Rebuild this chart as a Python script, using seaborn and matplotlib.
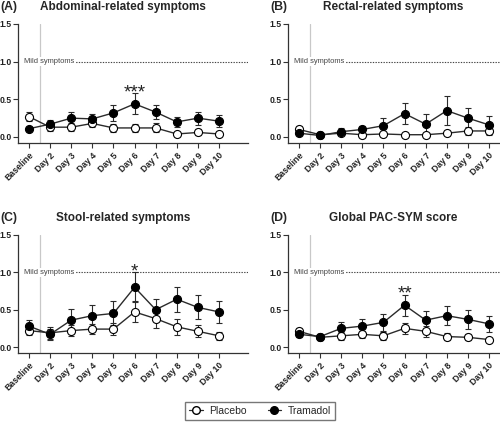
import numpy as np
import pandas as pd
import matplotlib
matplotlib.use("Agg")
import matplotlib.pyplot as plt
from matplotlib.lines import Line2D
import seaborn as sns

# Days on the x axis
days = ["Baseline", "Day 2", "Day 3", "Day 4", "Day 5",
        "Day 6", "Day 7", "Day 8", "Day 9", "Day 10"]

# (A) Abdominal-related symptoms
abd_placebo = [0.27, 0.13, 0.13, 0.18, 0.12, 0.12, 0.12, 0.04, 0.06, 0.04]
abd_placebo_err = [0.06, 0.05, 0.05, 0.05, 0.05, 0.05, 0.06, 0.02, 0.04, 0.02]
abd_tramadol = [0.11, 0.17, 0.25, 0.24, 0.32, 0.44, 0.33, 0.20, 0.25, 0.21]
abd_tramadol_err = [0.02, 0.05, 0.085, 0.07, 0.11, 0.14, 0.095, 0.07, 0.085, 0.08]

# (B) Rectal-related symptoms
rec_placebo = [0.10, 0.03, 0.05, 0.03, 0.04, 0.03, 0.03, 0.05, 0.08, 0.08]
rec_placebo_err = [0.04, 0.01, 0.03, 0.02, 0.02, 0.01, 0.01, 0.02, 0.05, 0.06]
rec_tramadol = [0.05, 0.02, 0.07, 0.10, 0.15, 0.31, 0.17, 0.35, 0.25, 0.16]
rec_tramadol_err = [0.03, 0.01, 0.05, 0.05, 0.10, 0.14, 0.14, 0.19, 0.14, 0.12]

# (C) Stool-related symptoms
sto_placebo = [0.22, 0.19, 0.22, 0.24, 0.24, 0.47, 0.38, 0.27, 0.21, 0.15]
sto_placebo_err = [0.06, 0.08, 0.07, 0.07, 0.08, 0.14, 0.12, 0.11, 0.08, 0.05]
sto_tramadol = [0.28, 0.17, 0.36, 0.42, 0.45, 0.80, 0.50, 0.64, 0.53, 0.47]
sto_tramadol_err = [0.08, 0.07, 0.15, 0.14, 0.16, 0.20, 0.14, 0.17, 0.16, 0.15]

# (D) Global PAC-SYM score
glo_placebo = [0.21, 0.13, 0.15, 0.17, 0.15, 0.25, 0.21, 0.14, 0.13, 0.10]
glo_placebo_err = [0.05, 0.04, 0.05, 0.05, 0.05, 0.07, 0.07, 0.05, 0.04, 0.02]
glo_tramadol = [0.17, 0.14, 0.25, 0.28, 0.33, 0.56, 0.36, 0.42, 0.37, 0.31]
glo_tramadol_err = [0.04, 0.04, 0.09, 0.09, 0.11, 0.14, 0.12, 0.13, 0.13, 0.11]

panels = [
    ("(A)", "Abdominal-related symptoms", abd_placebo, abd_placebo_err,
     abd_tramadol, abd_tramadol_err, "***", 0.64),
    ("(B)", "Rectal-related symptoms", rec_placebo, rec_placebo_err,
     rec_tramadol, rec_tramadol_err, None, None),
    ("(C)", "Stool-related symptoms", sto_placebo, sto_placebo_err,
     sto_tramadol, sto_tramadol_err, "*", 1.06),
    ("(D)", "Global PAC-SYM score", glo_placebo, glo_placebo_err,
     glo_tramadol, glo_tramadol_err, "**", 0.77),
]

sns.set_style("ticks")
plt.rcParams['font.family'] = ['Liberation Sans', 'DejaVu Sans']

W, H = 500, 429
fig = plt.figure(figsize=(W / 100, H / 100), dpi=100)

# axes boxes in pixels: left, top, width, height
boxes = [(18, 24, 230, 119), (288, 24, 230, 119),
         (18, 235, 230, 118), (288, 235, 230, 118)]

line_col = "#2b2b2b"
x = np.arange(len(days))

for (lab, title, pl, ple, tr, tre, star, star_y), (l, t, w, h) in zip(panels, boxes):
    ax = fig.add_axes([l / W, 1 - (t + h) / H, w / W, h / H])
    df = pd.DataFrame({
        "x": np.concatenate([x, x]),
        "y": pl + tr,
        "group": ["Placebo"] * len(x) + ["Tramadol"] * len(x),
    })
    for g, vals, errs, face in [("Placebo", pl, ple, "white"),
                                ("Tramadol", tr, tre, "black")]:
        ax.errorbar(x, vals, yerr=errs, fmt="none", ecolor=line_col,
                    elinewidth=0.8, capsize=2.5, capthick=0.8, zorder=2)
        sns.lineplot(data=df[df.group == g], x="x", y="y", ax=ax,
                     color=line_col, linewidth=1.0, marker="o",
                     markersize=5.8, markerfacecolor=face,
                     markeredgecolor="black", markeredgewidth=0.8,
                     zorder=3, legend=False)

    ax.axvline(0.5, color="#c8c8c8", linewidth=0.9, zorder=1)
    ax.plot([0.55, 10.4], [1.0, 1.0], linestyle=(0, (1.2, 1.2)),
            color="#444444", linewidth=0.8, zorder=1)
    ax.text(-0.25, 1.0, "Mild symptoms", fontsize=5.4, color="#444444",
            va="center", ha="left", zorder=4,
            bbox=dict(facecolor="white", edgecolor="none", pad=0.6))
    if star:
        ax.text(5, star_y - 0.06, star, fontsize=13.5, ha="center",
                va="center", color="#222222")

    ax.set_xlim(-0.52, 10.37)
    ax.set_ylim(-0.08, 1.5)
    ax.spines["left"].set_bounds(-0.08, 1.5)
    sns.despine(ax=ax)
    for s in ["left", "bottom"]:
        ax.spines[s].set_color("#333333")
        ax.spines[s].set_linewidth(0.9)
    ax.set_yticks([0.0, 0.5, 1.0, 1.5])
    ax.set_yticklabels(["0.0", "0.5", "1.0", "1.5"], fontsize=6.2,
                       fontweight="bold", color="#222222")
    ax.set_xticks(x)
    ax.set_xticklabels(days, rotation=45, ha="right", rotation_mode="anchor",
                       fontsize=6.3, fontweight="bold", color="#222222")
    ax.tick_params(axis="y", length=3.5, width=0.8, color="#333333", pad=1.0)
    ax.tick_params(axis="x", length=3.5, width=0.8, color="#333333", pad=2)
    ax.set_xlabel("")
    ax.set_ylabel("")

    # panel label and title
    fig.text((l - 18) / W, 1 - (t - 17) / H, lab, fontsize=8.8,
             fontweight="bold", va="center", ha="left")
    fig.text((l + 105) / W, 1 - (t - 17) / H, title, fontsize=8.5,
             fontweight="bold", va="center", ha="center")

handles = [
    Line2D([], [], color=line_col, linewidth=0.9, marker="o", markersize=5.5,
           markerfacecolor="white", markeredgecolor="black"),
    Line2D([], [], color=line_col, linewidth=0.9, marker="o", markersize=5.5,
           markerfacecolor="black", markeredgecolor="black"),
]
fig.legend(handles, ["Placebo", "Tramadol"], loc="center",
           bbox_to_anchor=(260 / W, 1 - 411 / H), ncol=2, fontsize=7.5,
           frameon=True, fancybox=False, edgecolor="#555555",
           handlelength=1.3, columnspacing=2.0, handletextpad=0.6,
           borderpad=0.4)

fig.savefig("out.png", dpi=100)
